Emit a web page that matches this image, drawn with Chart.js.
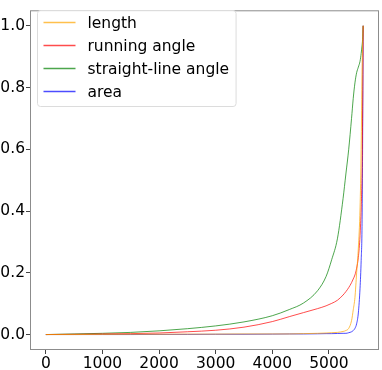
<!DOCTYPE html>
<html>
<head>
<meta charset="utf-8">
<script src="https://cdn.jsdelivr.net/npm/chart.js@4"></script>
<style>
  html, body { margin: 0; padding: 0; background: #fff; }
</style>
</head>
<body>
<canvas id="chart" width="382" height="370"></canvas>
<script>
  // sample index (x) shared by all curves
  const xs = [0, 500, 1000, 1500, 2000, 2500, 3000, 3500, 4000, 4300, 4550, 4800, 4950,
    5050, 5150, 5250, 5300, 5350, 5400, 5430, 5460, 5490, 5520, 5550, 5570, 5585, 5595, 5605];

  const lengthVals = [0, 0, 0.0005, 0.001, 0.001, 0.0015, 0.0015, 0.002, 0.002, 0.002, 0.003, 0.004, 0.005,
    0.006, 0.007, 0.01, 0.013, 0.02, 0.045, 0.08, 0.12, 0.2, 0.28, 0.41, 0.6, 0.85, 0.93, 1.0];
  const runningAngleVals = [0, 0.001, 0.002, 0.003, 0.005, 0.009, 0.014, 0.024, 0.042, 0.058, 0.071, 0.084, 0.093,
    0.101, 0.111, 0.128, 0.139, 0.152, 0.168, 0.18, 0.193, 0.215, 0.25, 0.32, 0.41, 0.52, 0.7, 1.0];
  const straightAngleVals = [0, 0.002, 0.004, 0.007, 0.012, 0.019, 0.028, 0.041, 0.061, 0.081, 0.102, 0.142, 0.188,
    0.243, 0.31, 0.44, 0.52, 0.6, 0.7, 0.765, 0.815, 0.848, 0.866, 0.885, 0.91, 0.935, 0.955, 1.0];
  const areaVals = [0, 0, 0, 0, 0.0005, 0.0005, 0.001, 0.001, 0.0015, 0.002, 0.002, 0.0025, 0.003,
    0.003, 0.0035, 0.004, 0.004, 0.006, 0.009, 0.013, 0.02, 0.035, 0.07, 0.15, 0.24, 0.35, 0.6, 1.0];

  const seriesNames = ["length", "running angle", "straight-line angle", "area"];
  const seriesColors = [
    "rgba(255, 165, 0, 0.7)",
    "rgba(255, 0, 0, 0.7)",
    "rgba(0, 128, 0, 0.7)",
    "rgba(0, 0, 255, 0.7)",
  ];

  const xTicks = [0, 1000, 2000, 3000, 4000, 5000];
  const yTicks = [0, 0.2, 0.4, 0.6, 0.8, 1.0];

  const FONT = "'DejaVu Sans', sans-serif";
  const FONT_SIZE = 15.5;

  const toPoints = (vals) => xs.map((x, i) => ({ x: x, y: vals[i] }));
  const allVals = [lengthVals, runningAngleVals, straightAngleVals, areaVals];

  const datasets = allVals.map((vals, i) => ({
    label: seriesNames[i],
    data: toPoints(vals),
    borderColor: seriesColors[i],
    backgroundColor: seriesColors[i],
    borderWidth: 1,
    pointRadius: 0,
    showLine: true,
    cubicInterpolationMode: "monotone",
  }));

  // box round the plot area, like matplotlib spines
  const frame = {
    id: "frame",
    afterDatasetsDraw(chart) {
      const { ctx, chartArea: a } = chart;
      ctx.save();
      ctx.strokeStyle = "#8c8c8c";
      ctx.lineWidth = 1;
      ctx.strokeRect(a.left + 0.5, a.top + 0.5, a.right - a.left - 1, a.bottom - a.top - 1);
      ctx.restore();
    },
  };

  // legend drawn inside the axes, upper left
  const innerLegend = {
    id: "innerLegend",
    afterDraw(chart) {
      const { ctx } = chart;
      const left = 37.5, top = 10.5, rowH = 23, lineW = 32;
      ctx.save();
      ctx.font = FONT_SIZE + "px " + FONT;
      let maxW = 0;
      chart.data.datasets.forEach((d) => {
        maxW = Math.max(maxW, ctx.measureText(d.label).width);
      });
      const textX = left + 50;
      const w = textX + maxW + 7 - left;
      const h = rowH * 4 + 4;
      ctx.beginPath();
      ctx.roundRect(left, top, w, h, 3);
      ctx.fillStyle = "rgba(255,255,255,0.8)";
      ctx.fill();
      ctx.strokeStyle = "#dcdcdc";
      ctx.lineWidth = 1;
      ctx.stroke();
      ctx.textBaseline = "middle";
      ctx.fillStyle = "#000";
      chart.data.datasets.forEach((d, i) => {
        const y = top + 12 + i * rowH;
        ctx.beginPath();
        ctx.moveTo(left + 6, y);
        ctx.lineTo(left + 6 + lineW, y);
        ctx.strokeStyle = d.borderColor;
        ctx.lineWidth = 1.5;
        ctx.stroke();
        ctx.fillText(d.label, textX, y + 1);
      });
      ctx.restore();
    },
  };

  new Chart(document.getElementById("chart"), {
    type: "scatter",
    data: { datasets },
    plugins: [frame, innerLegend],
    options: {
      responsive: false,
      devicePixelRatio: 1,
      animation: false,
      layout: { padding: { top: 2, right: 3, left: 0, bottom: 0 } },
      plugins: {
        legend: { display: false },
        tooltip: { enabled: false },
      },
      scales: {
        x: {
          type: "linear",
          min: -280,
          max: 5885,
          afterBuildTicks: (s) => { s.ticks = xTicks.map((v) => ({ value: v })); },
          afterFit: (s) => { s.height = 20; },
          grid: { drawOnChartArea: false, drawTicks: true, tickLength: 4, color: "#444" },
          border: { display: false },
          ticks: {
            color: "#000",
            padding: 1,
            maxRotation: 0,
            autoSkip: false,
            font: { family: FONT, size: FONT_SIZE },
            callback: (v) => String(v),
          },
        },
        y: {
          min: -0.05,
          max: 1.05,
          afterBuildTicks: (s) => { s.ticks = yTicks.map((v) => ({ value: v })); },
          afterFit: (s) => { s.width = 30; },
          grid: { drawOnChartArea: false, drawTicks: true, tickLength: 4, color: "#444" },
          border: { display: false },
          ticks: {
            color: "#000",
            padding: 1,
            autoSkip: false,
            font: { family: FONT, size: FONT_SIZE },
            callback: (v) => v.toFixed(1),
          },
        },
      },
    },
  });
</script>
</body>
</html>
